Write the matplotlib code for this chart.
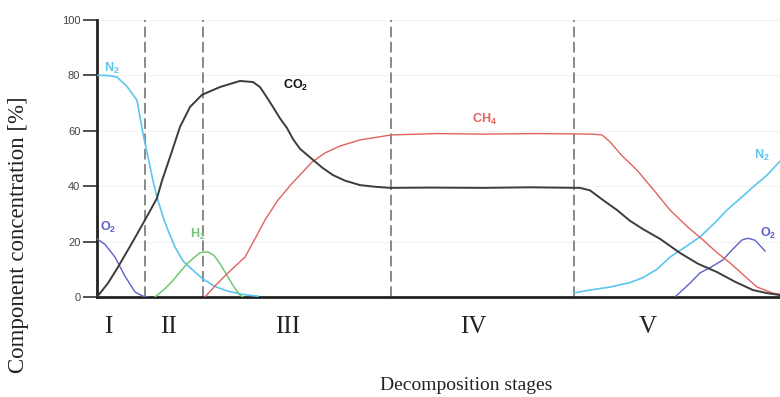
import matplotlib
matplotlib.use("Agg")
import matplotlib.pyplot as plt

plt.rcParams['mathtext.fontset'] = 'custom'
plt.rcParams['mathtext.rm'] = 'Liberation Sans'
plt.rcParams['mathtext.bf'] = 'Liberation Sans:bold'

# ---- data (x in arbitrary time units, y in %) ----
n2_early_t = [0, 10, 20, 30, 40, 46, 51, 56, 60, 66, 70, 78, 86, 98, 106, 118, 130, 141, 150, 161]
n2_early_y = [80, 80, 79.4, 76, 71, 59, 50.5, 42, 36, 29, 25, 18, 13, 9, 6.5, 3.8, 2.2, 1.3, 0.7, 0.3]

n2_late_t = [477, 493, 513, 533, 546, 560, 573, 588, 603, 617, 630, 643, 656, 670, 683]
n2_late_y = [1.5, 2.5, 3.6, 5.2, 7, 10, 14.4, 18, 21.7, 26.5, 31.4, 35.5, 39.7, 44, 49]

o2_early_t = [0, 8, 18, 28, 38, 46, 50]
o2_early_y = [21, 19, 14.4, 7.5, 1.8, 0.3, 0]

o2_late_t = [578, 593, 603, 615, 626, 635, 645, 651, 658, 668]
o2_late_y = [0, 5, 8.7, 11, 13.4, 17, 20.6, 21.2, 20.5, 16.6]

h2_t = [58, 68, 76, 83, 90, 98, 103, 111, 117, 123, 131, 137, 143, 146]
h2_y = [0, 3, 6, 9, 12, 14.5, 16, 16.3, 15, 12, 7.2, 3.6, 0.7, 0]

co2_t = [0, 11, 21, 35, 48, 60, 65, 73, 83, 93, 105, 123, 143, 156, 163, 170, 176, 183,
         190, 196, 203, 216, 226, 236, 248, 263, 278, 293, 333, 386, 433, 483, 493, 506,
         520, 533, 546, 563, 583, 601, 620, 638, 656, 670, 683]
co2_y = [0, 5, 10.8, 19.5, 27.8, 35.7, 42, 50.5, 61.4, 68.6, 73, 75.8, 78, 77.6, 75.8,
         72, 68.6, 64.5, 61, 57, 53.5, 49.5, 46.5, 44, 42, 40.4, 39.8, 39.4, 39.5, 39.4,
         39.6, 39.4, 38.5, 35, 31.4, 27.5, 24.5, 21, 15.9, 12, 9, 5.5, 2.5, 1.4, 0.7]

ch4_t = [108, 118, 131, 148, 161, 168, 181, 195, 215, 228, 243, 263, 294, 340, 386, 440,
         496, 505, 513, 525, 540, 557, 573, 590, 606, 620, 633, 660, 676, 683]
ch4_y = [0, 4, 8.7, 14.4, 23, 27.8, 35, 41, 48.7, 52, 54.5, 56.7, 58.5, 59, 58.8, 59,
         58.8, 58.5, 56, 51, 45.8, 38.5, 31.4, 25.5, 20.6, 16, 12.3, 3.6, 1.4, 1]

stage_bounds = [48, 106, 294, 477]
stage_names = ["I", "II", "III", "IV", "V"]
stage_label_t = [11, 71, 191, 376, 551]

yticks = [0, 20, 40, 60, 80, 100]

# ---- figure ----
fig = plt.figure(figsize=(7.8, 3.97), dpi=100)
ax = fig.add_axes([97 / 780, 100 / 397, 683 / 780, 277 / 397])
ax.set_xlim(0, 683)
ax.set_ylim(0, 100)

for yv in yticks[1:]:
    ax.axhline(yv, color='#f3f3f3', lw=0.8, zorder=0)

for b in stage_bounds:
    ax.axvline(b, color='#6a6a6a', lw=1.1, dashes=(7, 3), zorder=1)

c_n2 = '#5cc6ee'
c_o2 = '#5e62c8'
c_h2 = '#74c774'
c_co2 = '#3c3c3c'
c_ch4 = '#e0625f'

ax.plot(n2_early_t, n2_early_y, color=c_n2, lw=1.2, zorder=3)
ax.plot(n2_late_t, n2_late_y, color=c_n2, lw=1.2, zorder=3)
ax.plot(o2_early_t, o2_early_y, color=c_o2, lw=1.0, zorder=3)
ax.plot(o2_late_t, o2_late_y, color=c_o2, lw=1.0, zorder=3)
ax.plot(h2_t, h2_y, color=c_h2, lw=1.1, zorder=3)
ax.plot(co2_t, co2_y, color=c_co2, lw=1.4, zorder=4)
ax.plot(ch4_t, ch4_y, color=c_ch4, lw=1.0, zorder=3)

lab_kw = dict(fontsize=9, fontweight='bold', family='Liberation Sans', va='center')
ax.text(7, 82.5, r'N$_\mathbf{2}$', color=c_n2, **lab_kw)
ax.text(3, 25, r'O$_\mathbf{2}$', color=c_o2, **lab_kw)
ax.text(93, 22.5, r'H$_\mathbf{2}$', color=c_h2, **lab_kw)
ax.text(186, 76.5, r'CO$_\mathbf{2}$', color='#111111', **lab_kw)
ax.text(375, 64, r'CH$_\mathbf{4}$', color=c_ch4, **lab_kw)
ax.text(657, 51, r'N$_\mathbf{2}$', color=c_n2, **lab_kw)
ax.text(663, 23, r'O$_\mathbf{2}$', color=c_o2, **lab_kw)

for name, t in zip(stage_names, stage_label_t):
    ax.text(t, -11, name, ha='center', va='center', fontsize=18,
            family='Liberation Serif', color='#222222', clip_on=False)

ax.set_yticks(yticks)
ax.set_yticklabels([str(v) for v in yticks], family='Liberation Sans',
                   fontsize=8, color='#444444')
ax.tick_params(axis='y', length=10, width=1.2, pad=2, color='#333333')
ax.set_xticks([])

for s in ['top', 'right']:
    ax.spines[s].set_visible(False)
ax.spines['left'].set_linewidth(2)
ax.spines['bottom'].set_linewidth(2)
ax.spines['left'].set_color('#222222')
ax.spines['bottom'].set_color('#222222')

fig.text(19 / 780, 1 - 235 / 397, 'Component concentration [%]', rotation=90,
         ha='center', va='center', fontsize=16.5, family='Liberation Serif', color='#222222')
fig.text(466 / 780, 1 - 386 / 397, 'Decomposition stages', ha='center', va='center',
         fontsize=14, family='Liberation Serif', color='#222222')

fig.savefig('out.png', dpi=100)
